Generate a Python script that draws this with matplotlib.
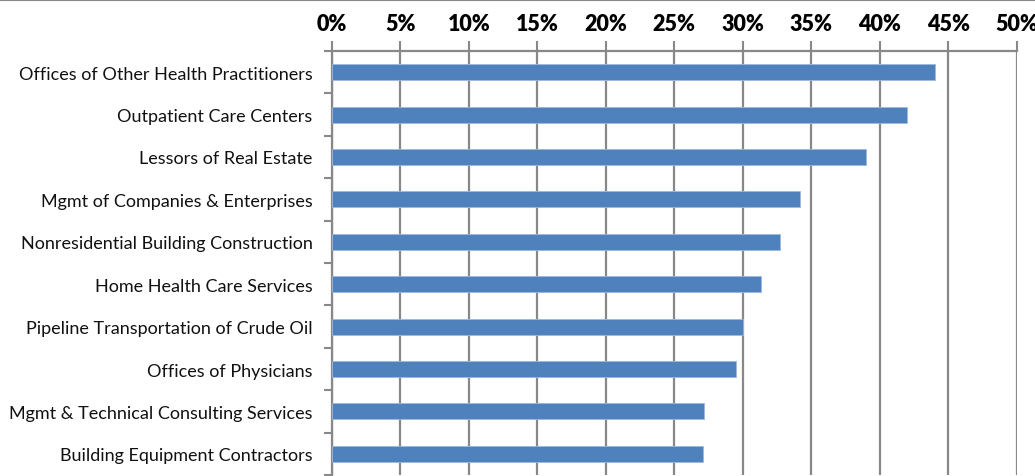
import matplotlib
matplotlib.use("Agg")
import matplotlib.pyplot as plt
from matplotlib.ticker import FixedLocator, PercentFormatter
import numpy as np

categories = [
    "Offices of Other Health Practitioners",
    "Outpatient Care Centers",
    "Lessors of Real Estate",
    "Mgmt of Companies & Enterprises",
    "Nonresidential Building Construction",
    "Home Health Care Services",
    "Pipeline Transportation of Crude Oil",
    "Offices of Physicians",
    "Mgmt & Technical Consulting Services",
    "Building Equipment Contractors",
]
values = [44.0, 42.0, 39.0, 34.2, 32.7, 31.3, 30.0, 29.5, 27.2, 27.1]
xticks = [0, 5, 10, 15, 20, 25, 30, 35, 40, 45, 50]

plt.rcParams['font.family'] = ['Lato', 'DejaVu Sans']

fig = plt.figure(figsize=(10.35, 4.77), dpi=100)
W, H = 1035, 477
left, right, top, bottom = 332, 1016.7, 52, 476
ax = fig.add_axes([left / W, 1 - bottom / H, (right - left) / W, (bottom - top) / H])

n = len(categories)
ypos = np.arange(n)
ax.barh(ypos, values, height=0.38, color="#4F81BD", edgecolor="#9DB9DD", linewidth=0.6, zorder=3)

ax.set_xlim(0, 50)
ax.set_ylim(n - 0.5, -0.5)
ax.xaxis.tick_top()
ax.set_xticks(xticks)
ax.xaxis.set_major_formatter(PercentFormatter(decimals=0))
ax.tick_params(axis='x', which='major', length=7, width=1.5, color="#888888", pad=5,
               labelsize=15.5)
for lab in ax.get_xticklabels():
    lab.set_fontweight('heavy')
ax.grid(axis='x', color="#888888", linewidth=1.6, zorder=0)

ax.set_yticks(ypos)
ax.set_yticklabels(categories)
ax.yaxis.set_minor_locator(FixedLocator(np.arange(-0.5, n, 1.0)))
ax.tick_params(axis='y', which='major', length=0, pad=14, labelsize=13, labelcolor="#111111")
ax.tick_params(axis='y', which='minor', length=6, width=1.5, color="#888888")

for s in ['right', 'bottom']:
    ax.spines[s].set_visible(False)
for s in ['left', 'top']:
    ax.spines[s].set_color("#888888")
    ax.spines[s].set_linewidth(1.6)

# chart frame top edge
fig.add_artist(plt.Line2D([0, 1], [0.998, 0.998], color="#888888", linewidth=1.5, transform=fig.transFigure))

fig.savefig("out.png", dpi=100)
